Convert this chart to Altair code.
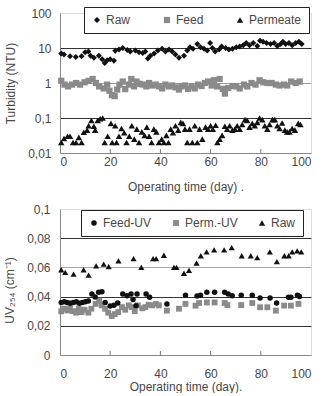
import altair as alt
import pandas as pd

# ---------------- Top panel: turbidity (NTU) ----------------
raw_day = [0.5, 1.6, 4, 6.3, 8.6, 10, 11.3, 12.2, 13.5, 15.5, 16.8, 17.8, 18.8, 20, 21.5,
           22, 23.5, 25, 26.8, 28, 30, 31.5, 33, 34, 35, 36, 37.5, 39, 40.7, 42,
           43.4, 44.7, 46, 47.4, 49.4, 50.7, 51.8, 53, 54.7, 56, 57.4, 58.7, 59.8, 60.7, 61.8,
           63.4, 64.4, 66, 67.3, 68.7, 70.2, 71.6, 73, 74.2, 75.5, 77, 78.6, 79.7, 80.9, 82.3,
           83.9, 85.3, 86.6, 87.9, 88.8, 89.9, 91.2, 92.5, 93.9, 95.2, 96.3]
raw_val = [7, 6.5, 5.8, 5.5, 5.8, 7.5, 8, 6, 5.3, 6, 4.8, 3.7, 4.5, 4.8, 4.3,
           8.4, 9, 10, 8.7, 8, 8.5, 7.5, 7.2, 8, 5, 6, 7, 8.5, 9.5, 8,
           9, 8, 6.5, 5.3, 6, 8.5, 10.5, 9.5, 13, 10.5, 9.5, 8.5, 14, 10, 8,
           9, 11, 10, 9, 9.5, 10.5, 11, 12, 14, 12, 14, 11.5, 16, 15, 14,
           13, 14, 11.5, 13, 15, 13, 14, 12, 14, 15, 13]

feed_day = [0.5, 1.8, 3.2, 4.8, 6.4, 8, 9.8, 11.4, 13, 14.3, 15.6, 17.4, 18.8, 19.7, 20.7,
            21.8, 22.8, 23.7, 25, 26, 27.5, 28.4, 29.5, 30.5, 31.7, 33, 34.4, 35.5, 36.8, 38.1,
            39.4, 40.7, 42, 43.4, 44.7, 46, 47.4, 48.4, 49.8, 51, 52.4, 53.7, 55, 56.4, 57.7,
            59, 60.4, 61.3, 62.6, 63.6, 64.9, 65.7, 67, 68.7, 70.2, 71.6, 73.3, 74.6, 76.3, 77.9,
            79.5, 81, 82.6, 84.3, 86, 87.5, 89.2, 90.5, 92.1, 93.9, 95.5]
feed_val = [1.16, 0.9, 0.8, 0.9, 1.0, 0.9, 1.05, 1.15, 1.3, 1.0, 0.8, 0.7, 0.9, 0.6, 0.45,
            0.42, 0.65, 0.9, 1.1, 0.67, 0.9, 1.3, 0.8, 1.1, 0.95, 0.9, 0.8, 1.0, 0.85, 0.9,
            0.8, 0.7, 0.9, 0.8, 0.85, 0.75, 0.65, 0.8, 0.85, 0.68, 0.8, 0.7, 0.9, 0.82, 1.0,
            1.1, 0.85, 1.2, 0.8, 1.3, 0.68, 0.5, 0.72, 0.82, 0.8, 0.7, 0.9, 0.8, 1.0, 0.9,
            1.2, 1.05, 1.0, 1.0, 0.9, 0.85, 0.9, 0.85, 1.1, 1.0, 1.1]

perm_day = [0.5, 1.6, 3, 4, 5.2, 6.4, 7.5, 8.6, 9.5, 10.8,
            11.4, 12.5, 13.5, 14, 15, 16, 17, 17.8, 19, 20.3,
            20.8, 22, 22.5, 23.5, 24.5, 25.6, 26.5, 27.6, 28.6, 29.6,
            30.6, 31.5, 32.6, 33.7, 34.6, 35.5, 36.5, 37.4, 38.4, 39.4,
            40.5, 41.4, 42.4, 43.2, 44.1, 45, 46, 47.1, 48.1, 49,
            49.8, 50.7, 51.6, 52.7, 53.7, 54.7, 55.6, 56.7, 58, 59,
            60, 60.9, 62, 62.7, 63.6, 64.6, 65.7, 66.6, 67.6, 68.7,
            69.7, 70.6, 71.6, 72.6, 73.7, 74.6, 75.5, 76.6, 77.6, 78.6,
            79.5, 80.6, 81.6, 82.6, 83.5, 84.6, 85.6, 86.6, 87.5, 88.5,
            89.6, 90.5, 91.4, 92.5, 93.6, 94.9, 95.8]
perm_val = [0.02, 0.026, 0.03, 0.03, 0.02, 0.02, 0.028, 0.02, 0.039, 0.045,
            0.06, 0.085, 0.058, 0.045, 0.085, 0.095, 0.1, 0.02, 0.03, 0.07,
            0.02, 0.06, 0.02, 0.03, 0.05, 0.038, 0.02, 0.03, 0.06, 0.025,
            0.048, 0.02, 0.04, 0.032, 0.055, 0.03, 0.02, 0.048, 0.04, 0.02,
            0.025, 0.02, 0.032, 0.02, 0.048, 0.038, 0.06, 0.045, 0.075, 0.07,
            0.048, 0.02, 0.048, 0.02, 0.06, 0.02, 0.048, 0.025, 0.055, 0.048,
            0.06, 0.048, 0.062, 0.02, 0.025, 0.032, 0.058, 0.048, 0.06, 0.045,
            0.048, 0.06, 0.048, 0.065, 0.09, 0.085, 0.055, 0.07, 0.06, 0.075,
            0.1, 0.09, 0.06, 0.048, 0.065, 0.09, 0.09, 0.06, 0.05, 0.072,
            0.045, 0.04, 0.04, 0.05, 0.045, 0.07, 0.065]

# ---------------- Bottom panel: UV254 (cm-1) ----------------
fuv_day = [0.5, 1.7, 2.9, 4.1, 5.3, 6.5, 7.7, 8.9, 10.1, 11.3, 12.7, 14, 15.4, 16.7, 18,
           20, 21.5, 23, 25, 26.7, 28.3, 29.1, 30.3, 30.7, 34.3, 35.7, 42.6, 50, 54.6, 56,
           58.5, 61.6, 65.6, 67, 68.6, 72.2, 76.6, 79.7, 83.7, 86.3, 91, 92, 94.6, 95.4]
fuv_val = [0.036, 0.0365, 0.036, 0.0355, 0.036, 0.0365, 0.0355, 0.036, 0.0365, 0.037,
           0.0418, 0.0397, 0.043, 0.0434, 0.036, 0.0336, 0.034, 0.0356, 0.0418, 0.0406,
           0.0418, 0.038, 0.0338, 0.0418, 0.0418, 0.0395, 0.035, 0.041, 0.0404, 0.041,
           0.043, 0.043, 0.043, 0.0418, 0.0406, 0.041, 0.041, 0.039, 0.039, 0.0356,
           0.0395, 0.0395, 0.041, 0.040]

puv_day = [0.5, 1.6, 3, 4, 5.2, 6.4, 7.5, 8.6, 9.8, 11.3, 12.5, 14.2, 15.6, 16.6, 18,
           19.2, 20.6, 21.8, 23.2, 24.7, 26, 27.4, 28.6, 29.8, 31, 32.8, 34, 35.3, 36.7, 38.2,
           39.4, 42.6, 47.4, 50, 54, 55.4, 58.5, 61.6, 65.6, 66.7, 72.2, 76.6, 79.7, 82.6, 86,
           89.3, 92, 95]
puv_val = [0.0299, 0.0317, 0.0305, 0.032, 0.030, 0.029, 0.0317, 0.0294, 0.031, 0.029,
           0.0317, 0.035, 0.0373, 0.034, 0.0317, 0.029, 0.0267, 0.028, 0.0294, 0.0328,
           0.031, 0.034, 0.0328, 0.030, 0.034, 0.032, 0.0328, 0.0344, 0.034, 0.035,
           0.034, 0.0304, 0.0317, 0.035, 0.0338, 0.0356, 0.036, 0.036, 0.0356, 0.0342,
           0.0342, 0.0356, 0.0327, 0.0327, 0.0304, 0.0338, 0.0338, 0.035]

uvraw_day = [0.5, 2.1, 5.4, 9.4, 11.4, 14.4, 17.4, 19.4, 23.3, 29.3, 32.4, 37.1, 38.3, 41.4,
             45.4, 46.4, 49.4, 51.4, 54.4, 56.1, 58.4, 61.4, 65.4, 68.4, 72.4, 76, 78.6,
             83.6, 86.4, 89.4, 91.1, 92.5, 94.5, 96.1]
uvraw_val = [0.0584, 0.0566, 0.0554, 0.0584, 0.0547, 0.061, 0.0622, 0.0606, 0.0645, 0.066,
             0.06, 0.066, 0.066, 0.0683, 0.06, 0.06, 0.056, 0.058, 0.063, 0.068,
             0.0706, 0.072, 0.072, 0.0735, 0.068, 0.068, 0.0667, 0.0706, 0.064, 0.068,
             0.068, 0.0706, 0.0713, 0.0706]

x_ticks = [0, 20, 40, 60, 80, 100]
inner_ticks = [20, 40, 60, 80]
top_y_ticks = [0.01, 0.1, 1, 10, 100]
bot_y_ticks = [0, 0.02, 0.04, 0.06, 0.08, 0.1]

top_series = ["Raw", "Feed", "Permeate"]
bot_series = ["Feed-UV", "Perm.-UV", "Raw"]

FONT = "Liberation Sans"
TXT = "#484848"
BLACK = "#111111"
GRAY = "#8a8a8a"
W = 251
H1 = 140
H2 = 146


def make_df(parts, key):
    rows = []
    for name, days, vals in parts:
        for d, v in zip(days, vals):
            rows.append({"day": d, key: v, "s_" + key: name})
    return pd.DataFrame(rows)


top_df = make_df([("Feed", feed_day, feed_val), ("Raw", raw_day, raw_val),
                  ("Permeate", perm_day, perm_val)], "ntu")
bot_df = make_df([("Perm.-UV", puv_day, puv_val), ("Feed-UV", fuv_day, fuv_val),
                  ("Raw", uvraw_day, uvraw_val)], "uv")
tick_df = pd.DataFrame({"day": inner_ticks})


def legend(lx, ly, colpad):
    return alt.Legend(title=None, orient="none", legendX=lx, legendY=ly,
                      direction="horizontal", strokeColor="#222", fillColor="white",
                      padding=7, columnPadding=colpad, labelOffset=3, gridAlign="none",
                      labelFont=FONT, labelFontSize=12, labelColor=TXT,
                      symbolSize=40, symbolStrokeWidth=0)


def panel(df, key, series, colors, shapes, sizes, yscale, yaxis, xaxis, H, leg):
    sf = "s_" + key + ":N"
    pts = alt.Chart(df).mark_point(filled=True, opacity=1).encode(
        x=alt.X("day:Q", scale=alt.Scale(domain=[0, 100], nice=False), axis=xaxis),
        y=alt.Y(key + ":Q", scale=yscale, axis=yaxis),
        color=alt.Color(sf, scale=alt.Scale(domain=series, range=colors), legend=leg),
        shape=alt.Shape(sf, scale=alt.Scale(domain=series, range=shapes), legend=leg),
        size=alt.Size(sf, scale=alt.Scale(domain=series, range=sizes), legend=None),
    )
    ticks = alt.Chart(tick_df).mark_rule(color="#777", strokeWidth=1).encode(
        x=alt.X("day:Q"), y=alt.value(H - 4), y2=alt.value(H))
    return alt.layer(ticks, pts).properties(width=W, height=H)


common = dict(titleFontWeight="normal", titleFont=FONT, labelFont=FONT,
              labelFontSize=12, titleFontSize=12, labelColor=TXT, titleColor=TXT,
              domainColor="#888888")

top_y_axis = alt.Axis(values=top_y_ticks, ticks=False, labelPadding=9,
                      labelExpr="replace('' + datum.value, '.', ',')",
                      title="Turbidity (NTU)", titlePadding=10,
                      grid=True,
                      gridColor={"condition": {"test": "datum.value == 1", "value": "#9a9a9a"},
                                 "value": "#333333"},
                      gridOpacity={"condition": {"test": "datum.value == 0.01 || datum.value == 100",
                                                 "value": 0}, "value": 1}, **common)
top_x_axis = alt.Axis(values=x_ticks, grid=False, ticks=False, labelPadding=3,
                      title="Operating time (day) .", titlePadding=14, **common)

bot_y_axis = alt.Axis(values=bot_y_ticks, ticks=False, labelPadding=10,
                      labelExpr="replace('' + datum.value, '.', ',')",
                      title="UV₂₅₄ (cm⁻¹)", titlePadding=10, titleY=H2 / 2 + 8,
                      grid=True,
                      gridColor={"condition": {"test": "datum.value == 0.06", "value": "#aaaaaa"},
                                 "value": "#333333"},
                      gridOpacity={"condition": {"test": "datum.value == 0 || datum.value == 0.1",
                                                 "value": 0}, "value": 1}, **common)
bot_x_axis = alt.Axis(values=x_ticks, grid=False, ticks=False, labelPadding=13,
                      title="Operating time (day).", titlePadding=2, **common)

top = panel(top_df, "ntu", top_series, [BLACK, GRAY, BLACK], ["diamond", "square", "triangle-up"],
            [36, 42, 36],
            alt.Scale(type="log", domain=[0.01, 100], nice=False),
            top_y_axis, top_x_axis, H1, legend(24, -6, 30))

bot = panel(bot_df, "uv", bot_series, [BLACK, GRAY, BLACK], ["circle", "square", "triangle-up"],
            [30, 38, 40],
            alt.Scale(domain=[0, 0.1], nice=False),
            bot_y_axis, bot_x_axis, H2, legend(21, 1, 18))

chart = alt.vconcat(top, bot, spacing=56, bounds="flush").resolve_scale(
    color="independent", shape="independent", size="independent",
    x="independent", y="independent"
).resolve_legend(color="independent", shape="independent").properties(
    padding={"left": 3, "top": 6, "right": 4, "bottom": 0}
).configure_view(stroke="#999999", strokeWidth=1).configure_legend(
    strokeWidth=1.5
).configure(font=FONT)

chart.save("out.html", embed_options={"renderer": "svg", "actions": False})
